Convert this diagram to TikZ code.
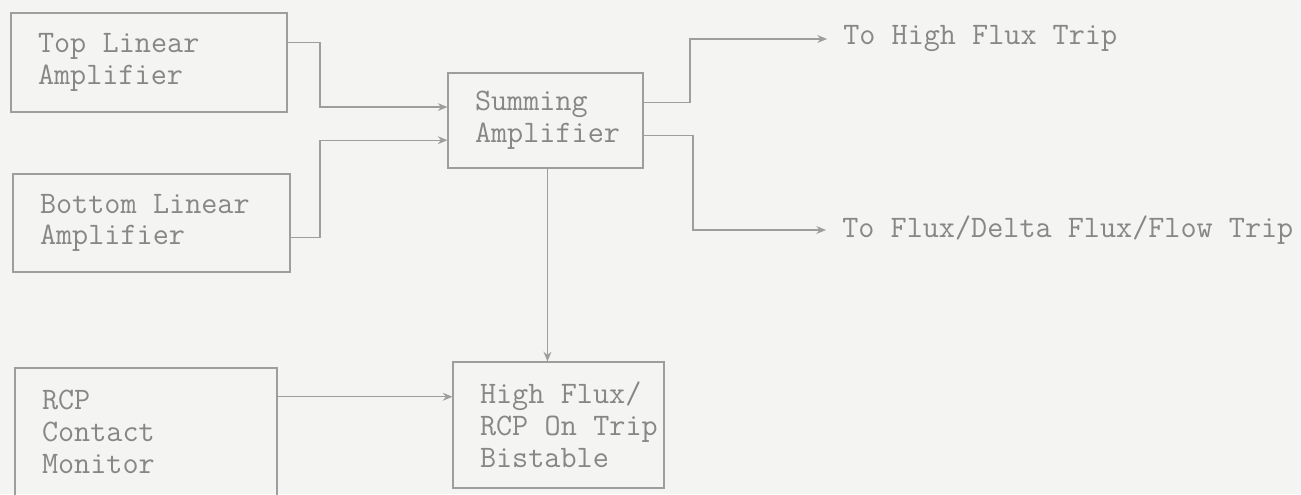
\documentclass[tikz,border=0pt]{standalone}
\usepackage{fontspec}
\usepackage{xcolor}
\usetikzlibrary{arrows.meta,calc}
\definecolor{bgcol}{RGB}{244,244,242}
\definecolor{inkgray}{RGB}{135,135,135}
\definecolor{wiregray}{RGB}{158,158,158}
\newcommand{\blkfont}{\ttfamily\fontsize{17.8pt}{18.1pt}\selectfont}
\tikzset{
  blk/.style = {draw = wiregray, line width = 0.65pt, text = inkgray, font = \blkfont,
                align = left, inner xsep = 0pt, inner ysep = 0pt,
                execute at begin node = {\leftskip = 0.54cm\spaceskip = 0.525em\xspaceskip = 0.525em}},
  lnk/.style = {draw = wiregray, line width = 0.65pt, ->,
                >={Stealth[length=5.5pt, width=4.5pt]}},
  lbl/.style = {text = inkgray, font = \blkfont, anchor = west,
                inner xsep = 0.32cm, inner ysep = 0pt}
}
\begin{document}
\begin{tikzpicture}[x = 0.02cm, y = -0.02cm]
\useasboundingbox[fill = bgcol] (0,0) rectangle (1301,494);

\node [blk, text width = 5.52cm, minimum height = 1.98cm] (top) at (149, 62.5) {Top Linear\\Amplifier};
\node [blk, text width = 5.54cm, minimum height = 1.96cm] (bot) at (151.5, 223) {Bottom Linear\\Amplifier};
\node [blk, text width = 5.24cm, minimum height = 2.56cm] (rcp) at (146, 432) {RCP\\Contact\\Monitor};
\node [blk, text width = 3.90cm, minimum height = 1.90cm] (sum) at (545.5, 120.5) {Summing\\Amplifier};
\node [blk, text width = 4.22cm, minimum height = 2.52cm] (hf) at (558.5, 425) {High Flux/\\RCP On Trip\\Bistable};

\node [lbl] (hft) at (827, 39) {To High Flux Trip};
\node [lbl] (fdf) at (826, 230) {To Flux/Delta Flux/Flow Trip};

% ports on the block edges
\coordinate (top-o) at ($(top.north east)!0.30!(top.south east)$);
\coordinate (bot-o) at ($(bot.north east)!0.643!(bot.south east)$);
\coordinate (sum-i1) at ($(sum.north west)!0.36!(sum.south west)$);
\coordinate (sum-i2) at ($(sum.north west)!0.705!(sum.south west)$);
\coordinate (sum-o1) at ($(sum.north east)!0.316!(sum.south east)$);
\coordinate (sum-o2) at ($(sum.north east)!0.653!(sum.south east)$);
\coordinate (sum-o3) at ($(sum.south west)!0.51!(sum.south east)$);
\coordinate (rcp-o) at ($(rcp.north east)!0.227!(rcp.south east)$);
\coordinate (j-in) at (320, 0);
\coordinate (j-hi) at (690, 0);
\coordinate (j-lo) at (693, 0);

\draw[lnk] (top-o) -| (j-in |- sum-i1) -- (sum-i1);
\draw[lnk] (bot-o) -| (j-in |- sum-i2) -- (sum-i2);

\draw[lnk] (sum-o1) -| (j-hi |- hft.west) -- (hft.west);
\draw[lnk] (sum-o2) -| (j-lo |- fdf.west) -- (fdf.west);

\draw[lnk] (sum-o3) -- (sum-o3 |- hf.north);
\draw[lnk] (rcp-o) -- (rcp-o -| hf.west);
\end{tikzpicture}
\end{document}
